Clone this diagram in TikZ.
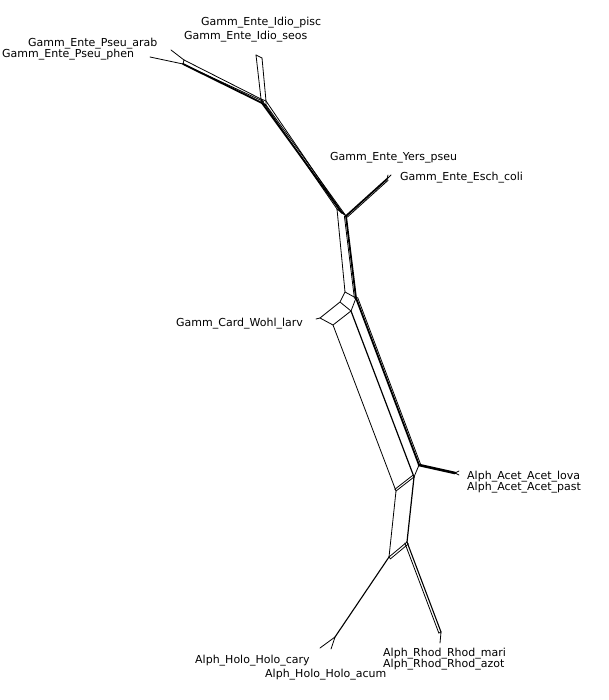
\documentclass[tikz,border=0pt]{standalone}
\usepackage{fontspec}
\setmainfont{DejaVu Sans}
\begin{document}
\begin{tikzpicture}[x=1pt,y=-1pt,
  edge/.style={line width=0.8pt, line cap=round, line join=round},
  heavy/.style={line width=1.8pt, line cap=round, line join=round},
  lab/.style={anchor=base west, inner sep=0pt, font=\fontsize{11}{13}\selectfont}]
\useasboundingbox[fill=white] (0,0) rectangle (608,700);
% ---- vertices ----
\coordinate (phenT) at (150,57);
\coordinate (arabT) at (171,50);
\coordinate (P1) at (184,60);
\coordinate (P2) at (183,64);
\coordinate (piscT) at (256,55);
\coordinate (seosT) at (262,58);
\coordinate (I1) at (261,99);
\coordinate (I2) at (266,101);
\coordinate (I3) at (262,103);
\coordinate (I4) at (266,105);
\coordinate (Y1) at (337,209);
\coordinate (Y2) at (341,211);
\coordinate (Y3) at (342,213);
\coordinate (Y4) at (346,216);
\coordinate (EschJ) at (387,179);
\coordinate (EschT) at (391,175);
\coordinate (YersT) at (388,175);
\coordinate (W1) at (345,292);
\coordinate (W2) at (356,298);
\coordinate (WA) at (340,302);
\coordinate (WB) at (320,318);
\coordinate (WC) at (333,325);
\coordinate (WD) at (351,311);
\coordinate (wohlT) at (316,319);
\coordinate (A0) at (419,465);
\coordinate (A1) at (414,477);
\coordinate (A2) at (396,491);
\coordinate (acetJ) at (455,473);
\coordinate (lovaT) at (459,471);
\coordinate (pastT) at (459,475);
\coordinate (B1) at (389,557);
\coordinate (B2) at (407,542);
\coordinate (holoJ) at (335,637);
\coordinate (caryT) at (320,648);
\coordinate (acumT) at (331,649);
\coordinate (rhodJ) at (441,632);
\coordinate (mariT) at (440,643);
% ---- Pseu / Idio ----
\draw[edge] (phenT) -- (P2);
\draw[edge] (arabT) -- (P1);
\draw[edge] (P1) -- (P2);
\draw[edge] (P1) -- (I1);
\draw[heavy] (P2) -- (I3);
\draw[edge] (P2) -- ([shift={(1.5,-1.5)}]I3);
\draw[edge] (piscT) -- (seosT);
\draw[edge] (piscT) -- (I1);
\draw[edge] (seosT) -- (I2);
\draw[edge] (I1) -- (I2) -- (I4) -- (I3) -- cycle;
% ---- bundle Idio -> Yers ----
\draw[edge] (I1) -- (Y1);
\draw[edge] (I2) -- (Y2);
\draw[heavy] (I3) -- (Y3);
\draw[edge] (I4) -- (Y4);
\draw[edge] (Y1) -- (Y2) -- (Y4) -- (Y3) -- cycle;
% ---- Esch / Yers ----
\draw[heavy] (Y4) -- (EschJ);
\draw[edge] ([shift={(1.2,1.2)}]Y4) -- ([shift={(1.2,1.2)}]EschJ);
\draw[edge] (EschJ) -- (YersT);
\draw[edge] (EschJ) -- (EschT);
% ---- down to Wohl box ----
\draw[edge] (Y1) -- (W1);
\draw[heavy] (Y4) -- (W2);
\draw[edge] ([shift={(-1.6,0.3)}]Y4) -- ([shift={(-1.6,0.3)}]W2);
\draw[edge] (W1) -- (W2);
\draw[edge] (W1) -- (WA) -- (WB) -- (WC) -- (WD) -- (WA);
\draw[edge] (WD) -- (W2);
\draw[edge] (WB) -- (wohlT);
% ---- long lines ----
\draw[edge] (WC) -- (A2);
\draw[edge,line width=1.2pt] (WD) -- (A1);
\draw[heavy] (W2) -- (A0);
\draw[edge] ([shift={(1.6,-0.6)}]W2) -- ([shift={(1.6,-0.6)}]A0);
% ---- Acet ----
\draw[line width=2.6pt, line cap=round] (A0) -- (acetJ);
\draw[edge] (acetJ) -- (lovaT);
\draw[edge] (acetJ) -- (pastT);
\draw[edge] (A0) -- (A1);
\draw[edge] (A1) -- (A2);
\draw[edge] ([shift={(-1.3,-1.6)}]A1) -- ([shift={(-1.3,-1.6)}]A2);
% ---- lower box ----
\draw[edge] (A2) -- (B1);
\draw[edge,line width=1.2pt] (A1) -- (B2);
\draw[edge] (B1) -- (B2);
\draw[edge] ([shift={(1.5,1.8)}]B1) -- ([shift={(1.5,1.8)}]B2);
\draw[edge] ([shift={(1.5,1.8)}]B1) -- (B1);
% ---- Holo ----
\draw[edge,line width=1.1pt] (B1) -- (holoJ);
\draw[edge] (holoJ) -- (caryT);
\draw[edge] (holoJ) -- (acumT);
% ---- Rhod ----
\draw[edge,line width=1.1pt] (B2) -- (rhodJ);
\draw[edge] ([shift={(-2.2,1)}]B2) -- ([shift={(-2.2,1)}]rhodJ);
\draw[edge] ([shift={(-2.2,1)}]rhodJ) -- (rhodJ);
\draw[edge] (rhodJ) -- (mariT);
% ---- labels ----
\node[lab] (lpisc) at (201,26) {Gamm\_Ente\_Idio\_pisc};
\node[lab] (lseos) at (184,40) {Gamm\_Ente\_Idio\_seos};
\node[lab] (larab) at (28,47) {Gamm\_Ente\_Pseu\_arab};
\node[lab] (lphen) at (2,58) {Gamm\_Ente\_Pseu\_phen};
\node[lab] (lyers) at (330,161) {Gamm\_Ente\_Yers\_pseu};
\node[lab] (lesch) at (400,181) {Gamm\_Ente\_Esch\_coli};
\node[lab] (lwohl) at (176,326) {Gamm\_Card\_Wohl\_larv};
\node[lab] (llova) at (467,479) {Alph\_Acet\_Acet\_lova};
\node[lab] (lpast) at (467,490) {Alph\_Acet\_Acet\_past};
\node[lab] (lmari) at (383,656) {Alph\_Rhod\_Rhod\_mari};
\node[lab] (lazot) at (383,667) {Alph\_Rhod\_Rhod\_azot};
\node[lab] (lcary) at (195,663) {Alph\_Holo\_Holo\_cary};
\node[lab] (lacum) at (265,677) {Alph\_Holo\_Holo\_acum};
\end{tikzpicture}
\end{document}
